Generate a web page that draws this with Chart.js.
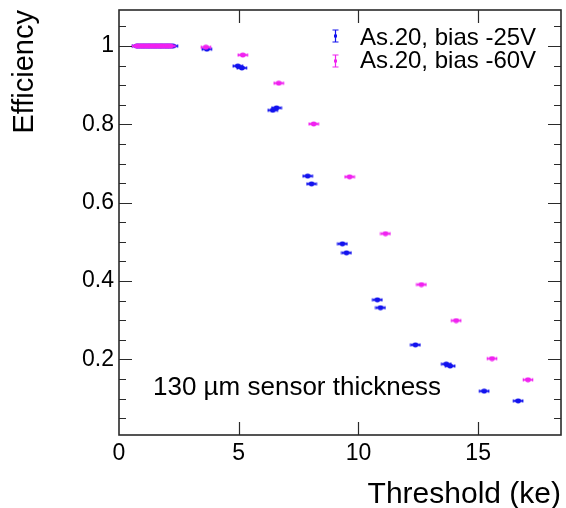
<!DOCTYPE html>
<html>
<head>
<meta charset="utf-8">
<script src="https://cdn.jsdelivr.net/npm/chart.js@4.4.1/dist/chart.umd.min.js"></script>
<style>
  html, body { margin: 0; padding: 0; background: #fff; }
  #grafico { display: block; }
</style>
</head>
<body>
<canvas id="grafico" width="566" height="508"></canvas>
<script>
// ===============================
// DADOS
// ===============================
const X_TICKS = [0, 5, 10, 15];
const Y_TICKS = [0.2, 0.4, 0.6, 0.8, 1];
const SERIES_NAMES = ["As.20, bias -25V", "As.20, bias -60V"];

// bias -25V
const THR_25V = [0.75, 0.85, 0.95, 1.05, 1.15, 1.25, 1.35, 1.45, 1.55, 1.65, 1.75, 1.85, 1.95, 2.05, 2.15, 2.25,
  3.67, 4.96, 5.13, 6.42, 6.58, 7.88, 8.04, 9.33, 9.5, 10.79, 10.92, 12.38, 13.67, 13.83, 15.25, 16.67];
const EFF_25V = [1, 1, 1, 1, 1, 1, 1, 1, 1, 1, 1, 1, 1, 1, 1, 1,
  0.992, 0.949, 0.944, 0.836, 0.842, 0.668, 0.648, 0.495, 0.472, 0.352, 0.332, 0.237, 0.188, 0.183, 0.119, 0.094];

// bias -60V
const THR_60V = [0.75, 0.85, 0.95, 1.05, 1.15, 1.25, 1.35, 1.45, 1.55, 1.65, 1.75, 1.85, 1.95, 2.05, 2.15,
  3.63, 5.17, 6.67, 8.13, 9.63, 11.13, 12.63, 14.08, 15.58, 17.08];
const EFF_60V = [1, 1, 1, 1, 1, 1, 1, 1, 1, 1, 1, 1, 1, 1, 1,
  0.997, 0.977, 0.905, 0.801, 0.666, 0.521, 0.391, 0.299, 0.202, 0.148];

const COR_25V = "#1212ee";
const COR_60V = "#f022f0";
const FONTE = "'Liberation Sans', Arial, Helvetica, sans-serif";

// ===============================
// MARCADOR (ponto + barra de erro horizontal)
// ===============================
function criarMarcador(cor) {
  const c = document.createElement("canvas");
  c.width = 12;
  c.height = 6;
  const g = c.getContext("2d");
  g.strokeStyle = cor;
  g.fillStyle = cor;
  g.lineWidth = 1.6;
  g.beginPath();
  g.moveTo(1, 3); g.lineTo(11, 3);
  g.moveTo(1.5, 1.5); g.lineTo(1.5, 4.5);
  g.moveTo(10.5, 1.5); g.lineTo(10.5, 4.5);
  g.stroke();
  g.beginPath();
  g.ellipse(6, 3, 3, 2.4, 0, 0, Math.PI * 2);
  g.fill();
  return c;
}

const pares = (xs, ys) => xs.map((x, i) => ({ x: x, y: ys[i] }));

// ===============================
// PLUGIN MOLDURA / LEGENDA / TEXTO
// ===============================
const moldura = {
  id: "moldura",
  afterDraw(chart) {
    const { ctx, chartArea: { left, right, top, bottom }, scales: { x, y } } = chart;
    ctx.save();
    ctx.strokeStyle = "#2a2a2a";
    ctx.lineWidth = 1.6;
    ctx.strokeRect(left, top, right - left, bottom - top);

    ctx.lineWidth = 1.2;
    ctx.beginPath();
    // ticks eixo y (maiores e menores), para dentro
    for (let v = 0.05; v < y.max; v += 0.05) {
      const py = Math.round(y.getPixelForValue(v)) + 0.5;
      if (py < top + 1 || py > bottom - 1) continue;
      const maior = Math.abs(v * 5 - Math.round(v * 5)) < 1e-6;
      const len = maior ? 13 : 7;
      ctx.moveTo(left, py); ctx.lineTo(left + len, py);
      ctx.moveTo(right, py); ctx.lineTo(right - len, py);
    }
    // ticks eixo x
    X_TICKS.forEach((v) => {
      const px = Math.round(x.getPixelForValue(v)) + 0.5;
      if (px < left + 1) return;
      ctx.moveTo(px, bottom); ctx.lineTo(px, bottom - 13);
      ctx.moveTo(px, top); ctx.lineTo(px, top + 13);
    });
    ctx.stroke();

    // legenda
    const itens = [
      { nome: SERIES_NAMES[0], cor: COR_25V, yc: 36, base: 45 },
      { nome: SERIES_NAMES[1], cor: COR_60V, yc: 61, base: 68 },
    ];
    itens.forEach((it) => {
      ctx.strokeStyle = it.cor;
      ctx.fillStyle = it.cor;
      ctx.lineWidth = 1.2;
      ctx.beginPath();
      ctx.moveTo(335.5, it.yc - 6); ctx.lineTo(335.5, it.yc + 6);
      ctx.moveTo(332.5, it.yc - 6); ctx.lineTo(338.5, it.yc - 6);
      ctx.moveTo(332.5, it.yc + 6); ctx.lineTo(338.5, it.yc + 6);
      ctx.stroke();
      ctx.fillRect(334, it.yc - 1.5, 3, 3);
      ctx.fillStyle = "#000";
      ctx.font = "24px " + FONTE;
      ctx.textAlign = "left";
      ctx.textBaseline = "alphabetic";
      ctx.fillText(it.nome, 360, it.base);
    });

    // texto
    ctx.fillStyle = "#000";
    ctx.font = "26px " + FONTE;
    ctx.fillText("130 µm sensor thickness", 153, 395);
    ctx.restore();
  },
};

// ===============================
// GRÁFICO
// ===============================
const ctx = document.getElementById("grafico").getContext("2d");
new Chart(ctx, {
  type: "scatter",
  data: {
    datasets: [
      {
        label: SERIES_NAMES[0],
        data: pares(THR_25V, EFF_25V),
        pointStyle: criarMarcador(COR_25V),
        backgroundColor: COR_25V,
        borderColor: COR_25V,
        order: 2,
      },
      {
        label: SERIES_NAMES[1],
        data: pares(THR_60V, EFF_60V),
        pointStyle: criarMarcador(COR_60V),
        backgroundColor: COR_60V,
        borderColor: COR_60V,
        order: 1,
      },
    ],
  },
  options: {
    responsive: false,
    animation: false,
    layout: { padding: { top: 10, right: 4, left: 0, bottom: 0 } },
    plugins: { legend: { display: false }, tooltip: { enabled: false } },
    scales: {
      x: {
        type: "linear",
        min: 0,
        max: 18.46,
        grid: { display: false, drawTicks: false },
        border: { display: false },
        afterBuildTicks: (s) => { s.ticks = X_TICKS.map((v) => ({ value: v })); },
        afterFit: (s) => { s.height = 73; s.paddingLeft = 0; s.paddingRight = 0; },
        ticks: {
          padding: 5,
          color: "#000",
          font: { family: FONTE, size: 23 },
          callback: (v) => String(v),
        },
        title: {
          display: true,
          text: "Threshold (ke)",
          align: "end",
          color: "#000",
          font: { family: FONTE, size: 30, lineHeight: 0.9 },
          padding: { top: 0, bottom: 0 },
        },
      },
      y: {
        type: "linear",
        min: 0.007,
        max: 1.092,
        grid: { display: false, drawTicks: false },
        border: { display: false },
        afterBuildTicks: (s) => { s.ticks = Y_TICKS.map((v) => ({ value: v })); },
        afterFit: (s) => { s.width = 119; s.paddingTop = 0; s.paddingBottom = 0; },
        ticks: {
          padding: 5,
          color: "#000",
          font: { family: FONTE, size: 23 },
          callback: (v) => String(Math.round(v * 10) / 10),
        },
        title: {
          display: true,
          text: "Efficiency",
          align: "end",
          color: "#000",
          font: { family: FONTE, size: 29, lineHeight: 0.9 },
          padding: { top: 12, bottom: 0 },
        },
      },
    },
  },
  plugins: [moldura],
});
</script>
</body>
</html>
